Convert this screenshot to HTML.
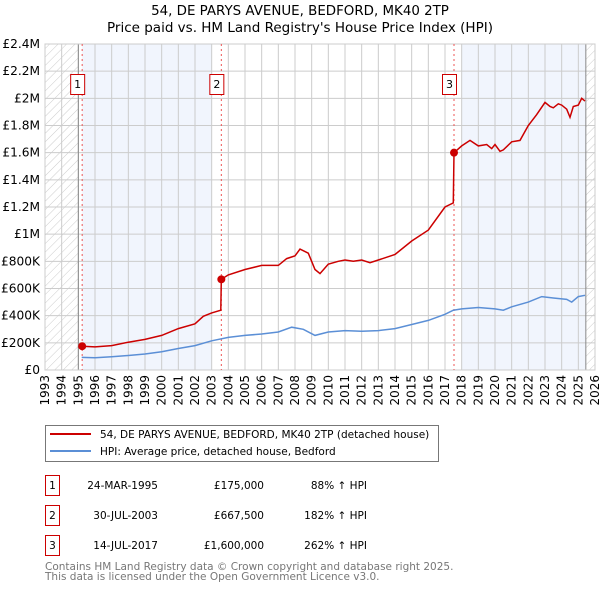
<!DOCTYPE html>
<html><head><meta charset="utf-8"><style>
body{margin:0;background:#fff;width:600px;height:590px;overflow:hidden;font-family:"DejaVu Sans","Liberation Sans",sans-serif}
svg text{font-family:"DejaVu Sans","Liberation Sans",sans-serif}
</style></head><body>
<svg id="chart" width="600" height="590" xmlns="http://www.w3.org/2000/svg">
<defs><pattern id="hatch" patternUnits="userSpaceOnUse" width="6" height="6" patternTransform="rotate(45)"><line x1="0" y1="0" x2="0" y2="6" stroke="#ccc" stroke-width="1"/></pattern></defs>
<text x="300" y="15" text-anchor="middle" font-size="13.4">54, DE PARYS AVENUE, BEDFORD, MK40 2TP</text>
<text x="300" y="32" text-anchor="middle" font-size="13.5">Price paid vs. HM Land Registry's House Price Index (HPI)</text>
<g id="plot"></g>
<g>
<rect x="45.5" y="425.5" width="393" height="36" fill="#fff" stroke="#777"/>
<line x1="50" y1="434" x2="91" y2="434" stroke="#cc0000" stroke-width="2"/>
<text x="100" y="438" font-size="10.5">54, DE PARYS AVENUE, BEDFORD, MK40 2TP (detached house)</text>
<line x1="50" y1="451" x2="91" y2="451" stroke="#5b8fd6" stroke-width="2"/>
<text x="100" y="455" font-size="10.5">HPI: Average price, detached house, Bedford</text>
</g>
<g id="table" font-size="10.5"></g>
<text x="45" y="570" font-size="10.5" fill="#777">Contains HM Land Registry data © Crown copyright and database right 2025.</text>
<text x="45" y="580" font-size="10.5" fill="#777">This data is licensed under the Open Government Licence v3.0.</text>
</svg>
<script>
const yTicks=[0,200000,400000,600000,800000,1000000,1200000,1400000,1600000,1800000,2000000,2200000,2400000];
const yTickLabels=["£0","£200K","£400K","£600K","£800K","£1M","£1.2M","£1.4M","£1.6M","£1.8M","£2M","£2.2M","£2.4M"];
const years=[1993,1994,1995,1996,1997,1998,1999,2000,2001,2002,2003,2004,2005,2006,2007,2008,2009,2010,2011,2012,2013,2014,2015,2016,2017,2018,2019,2020,2021,2022,2023,2024,2025,2026];
const hpiT=[1995.2,1996,1997,1998,1999,2000,2001,2002,2003,2004,2005,2006,2007,2007.8,2008.5,2009.2,2010,2011,2012,2013,2014,2015,2016,2017,2017.5,2018,2019,2020,2020.5,2021,2022,2022.8,2023.5,2024.3,2024.6,2025,2025.4];
const hpiV=[93000,90000,97000,107000,118000,135000,158000,180000,215000,240000,255000,265000,280000,315000,300000,255000,280000,290000,285000,290000,305000,335000,365000,410000,440000,450000,460000,450000,440000,465000,500000,540000,530000,520000,500000,540000,550000];
const priceT=[1995.23,1996,1997,1998,1999,2000,2001,2002,2002.5,2003,2003.55,2003.58,2004,2005,2006,2007,2007.5,2008,2008.3,2008.8,2009.2,2009.5,2010,2010.6,2011,2011.5,2012,2012.5,2013,2014,2015,2016,2017,2017.5,2017.54,2018,2018.5,2019,2019.5,2019.8,2020,2020.3,2020.5,2021,2021.5,2022,2022.5,2023,2023.3,2023.5,2023.8,2024,2024.3,2024.5,2024.7,2025,2025.2,2025.4];
const priceV=[175000,170000,180000,205000,225000,255000,305000,340000,395000,420000,440000,667500,700000,740000,770000,770000,820000,840000,890000,860000,740000,710000,780000,800000,810000,800000,810000,790000,810000,850000,950000,1030000,1200000,1230000,1600000,1650000,1690000,1650000,1660000,1630000,1660000,1610000,1620000,1680000,1690000,1800000,1880000,1970000,1940000,1930000,1960000,1950000,1920000,1860000,1940000,1950000,2000000,1980000];
const saleT=[1995.23,2003.58,2017.54];
const saleV=[175000,667500,1600000];
const saleLabels=["1","2","3"];
const saleDates=["24-MAR-1995","30-JUL-2003","14-JUL-2017"];
const salePrices=["£175,000","£667,500","£1,600,000"];
const saleHpi=["88% ↑ HPI","182% ↑ HPI","262% ↑ HPI"];

const X0=45,X1=595,Y0=370,Y1=44;
const xs=t=>X0+(t-1993)/(2026-1993)*(X1-X0);
const ys=v=>Y0-v/2400000*(Y0-Y1);
const NS="http://www.w3.org/2000/svg";
const plot=document.getElementById('plot');
function mk(tag,attrs,parent){const e=document.createElementNS(NS,tag);for(const k in attrs)e.setAttribute(k,attrs[k]);(parent||plot).appendChild(e);return e;}

let e;
e=mk('rect',{x:X0,y:Y1,width:X1-X0,height:Y0-Y1,fill:'#fff'});


e=mk('rect',{x:X0,y:Y1,width:xs(1995)-X0,height:Y0-Y1,fill:'url(#hatch)'});


e=mk('rect',{x:xs(2025.45),y:Y1,width:X1-xs(2025.45),height:Y0-Y1,fill:'url(#hatch)'});


e=mk('rect',{x:xs(saleT[0]),y:Y1,width:xs(2003)-xs(saleT[0]),height:Y0-Y1,fill:'#eef3fc',opacity:0.8});


e=mk('rect',{x:xs(2018),y:Y1,width:xs(2025.45)-xs(2018),height:Y0-Y1,fill:'#eef3fc',opacity:0.8});



yTicks.forEach((v,i)=>{
  e=mk('line',{x1:X0,x2:X1,y1:ys(v),y2:ys(v),stroke:'#ccc','stroke-width':1});
  
  
  e=mk('text',{x:40,y:ys(v)+4,'text-anchor':'end','font-size':12.2});
  e.textContent=yTickLabels[i];
  
  
});
years.forEach(y=>{
  e=mk('line',{x1:xs(y),x2:xs(y),y1:Y1,y2:Y0,stroke:'#ccc','stroke-width':1});
  
  
  e=mk('text',{x:0,y:0,'font-size':12,'text-anchor':'end',transform:`translate(${xs(y)+4},375) rotate(-90)`});
  e.textContent=y;
  
  
});
e=mk('line',{x1:xs(1995),x2:xs(1995),y1:Y1,y2:Y0,stroke:'#888'});


e=mk('line',{x1:xs(2025.45),x2:xs(2025.45),y1:Y1,y2:Y0,stroke:'#888'});


e=mk('rect',{x:X0,y:Y1,width:X1-X0,height:Y0-Y1,fill:'none',stroke:'#ccc'});



saleT.forEach((t,i)=>{
  e=mk('line',{x1:xs(t),x2:xs(t),y1:Y1,y2:Y0,stroke:'#ee5555','stroke-dasharray':'2,3','stroke-width':1});
  
  
  const g=mk('g',{});
  
  
  mk('rect',{x:xs(t)-11.5,y:74.5,width:14,height:20,fill:'#fff',stroke:'#cc0000'},g);
  const tx=mk('text',{x:xs(t)-4.5,y:88,'text-anchor':'middle','font-size':11},g);
  tx.textContent=saleLabels[i];
});

const pathOf=(T,V)=>T.map((t,i)=>(i?'L':'M')+xs(t).toFixed(1)+','+ys(V[i]).toFixed(1)).join('');
e=mk('path',{d:pathOf(hpiT,hpiV),fill:'none',stroke:'#5b8fd6','stroke-width':1.5});


e=mk('path',{d:pathOf(priceT,priceV),fill:'none',stroke:'#cc0000','stroke-width':1.5});


saleT.forEach((t,i)=>{
  e=mk('circle',{cx:xs(t),cy:ys(saleV[i]),r:4,fill:'#cc0000'});
  
  
});

const table=document.getElementById('table');
saleT.forEach((t,i)=>{
  const y0=475+i*30;
  const g=mk('g',{},table);
  
  
  mk('rect',{x:45.5,y:y0+0.5,width:14,height:20,fill:'#fff',stroke:'#cc0000'},g);
  let tt=mk('text',{x:52.5,y:y0+14,'text-anchor':'middle'},g);tt.textContent=saleLabels[i];
  tt=mk('text',{x:158,y:y0+14,'text-anchor':'end'},g);tt.textContent=saleDates[i];
  tt=mk('text',{x:264,y:y0+14,'text-anchor':'end'},g);tt.textContent=salePrices[i];
  tt=mk('text',{x:367,y:y0+14,'text-anchor':'end'},g);tt.textContent=saleHpi[i];
});
</script>
</body></html>
